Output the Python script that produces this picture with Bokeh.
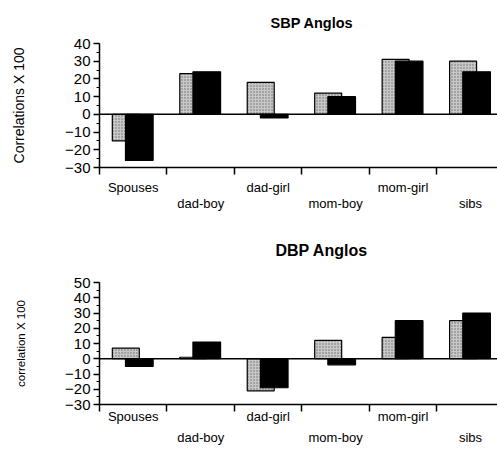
import numpy as np
from bokeh.plotting import figure
from bokeh.models import (Range1d, LinearAxis, FixedTicker, SingleIntervalTicker,
                          Span, ColumnDataSource)
from bokeh.layouts import column
from bokeh.embed import file_html
from bokeh.resources import INLINE

categories = ["Spouses", "dad-boy", "dad-girl", "mom-boy", "mom-girl", "sibs"]
sbp_gray = [-15, 23, 18, 12, 31, 30]
sbp_black = [-26, 24, -2, 10, 30, 24]
dbp_gray = [7, 1, -21, 12, 14, 25]
dbp_black = [-5, 11, -19, -4, 25, 30]

FONT = "Liberation Sans"
XMAX = 5.9


def make_panel(title, title_x, title_standoff, title_size, ylabel, ylabel_size,
               gray, black, ymin, ymax, height, border_top, border_bottom,
               row1_standoff, row2_standoff):
    idx = np.arange(len(categories))
    p = figure(width=497, height=height, output_backend="svg",
               toolbar_location=None, x_range=Range1d(0, XMAX),
               y_range=Range1d(ymin, ymax), x_axis_location=None,
               min_border_left=99, min_border_right=0,
               min_border_top=border_top, min_border_bottom=border_bottom)
    p.outline_line_color = None
    p.xgrid.visible = False
    p.ygrid.visible = False
    p.background_fill_color = "white"

    p.title.text = title
    p.title.align = "left"
    p.title.offset = title_x
    p.title.vertical_align = "top"
    p.title.standoff = title_standoff
    p.title.text_font = FONT
    p.title.text_font_size = title_size
    p.title.text_font_style = "bold"
    p.title.text_color = "black"

    src = ColumnDataSource(dict(xg=idx + 0.39, xb=idx + 0.59,
                                g=gray, b=black))
    p.vbar(x="xg", width=0.40, bottom=0, top="g", source=src,
           fill_color="#c8c8c8", hatch_pattern="dot", hatch_color="#6a6a6a",
           hatch_scale=3, hatch_weight=1, line_color="black", line_width=1.2)
    p.vbar(x="xb", width=0.41, bottom=0, top="b", source=src,
           fill_color="black", line_color="black", line_width=1.2)

    p.add_layout(Span(location=0, dimension="width", line_color="black",
                      line_width=1.5))

    # y axis
    ya = p.yaxis[0]
    ya.ticker = SingleIntervalTicker(interval=10, num_minor_ticks=2)
    ya.axis_line_width = 1.5
    ya.major_tick_line_width = 1.5
    ya.major_tick_out = 6
    ya.major_tick_in = 0
    ya.minor_tick_out = 3
    ya.minor_tick_in = 0
    ya.major_label_text_font = FONT
    ya.major_label_text_font_size = "15px"
    ya.major_label_text_color = "black"
    ya.major_label_standoff = 3
    ya.axis_label = ylabel
    ya.axis_label_text_font = FONT
    ya.axis_label_text_font_size = ylabel_size
    ya.axis_label_text_font_style = "normal"
    ya.axis_label_text_color = "black"
    ya.axis_label_standoff = 35

    # x axis: line, category boundary ticks and the two staggered label rows
    boundaries = list(range(len(categories) + 1))
    for row, standoff in ((0, row1_standoff), (1, row2_standoff)):
        pos = [i + 0.5 for i in range(row, len(categories), 2)]
        ax = LinearAxis(ticker=FixedTicker(ticks=pos,
                                           minor_ticks=boundaries if row == 0 else []))
        ax.major_label_overrides = {v: categories[int(v)] for v in pos}
        ax.major_tick_line_color = None
        ax.major_tick_out = 0
        ax.major_tick_in = 0
        if row == 0:
            ax.axis_line_width = 1.5
            ax.minor_tick_line_width = 1.5
            ax.minor_tick_line_color = "black"
            ax.minor_tick_out = 7
            ax.minor_tick_in = 0
        else:
            ax.axis_line_color = None
            ax.minor_tick_line_color = None
        ax.major_label_text_font = FONT
        ax.major_label_text_font_size = "13px"
        ax.major_label_text_color = "black"
        ax.major_label_standoff = standoff
        p.add_layout(ax, "below")
    return p


p1 = make_panel("SBP Anglos", 171, 22, "14.5px", "Correlations X 100", "14px",
                sbp_gray, sbp_black, -30, 40, 216, 43, 49, 5, -2)
p2 = make_panel("DBP Anglos", 176, 44, "16px", "correlation X 100", "11.5px",
                dbp_gray, dbp_black, -30, 50, 233, 66, 45, -3, 3)

layout = column(p1, p2, spacing=0)
open("out.html", "w").write(file_html(layout, INLINE))
